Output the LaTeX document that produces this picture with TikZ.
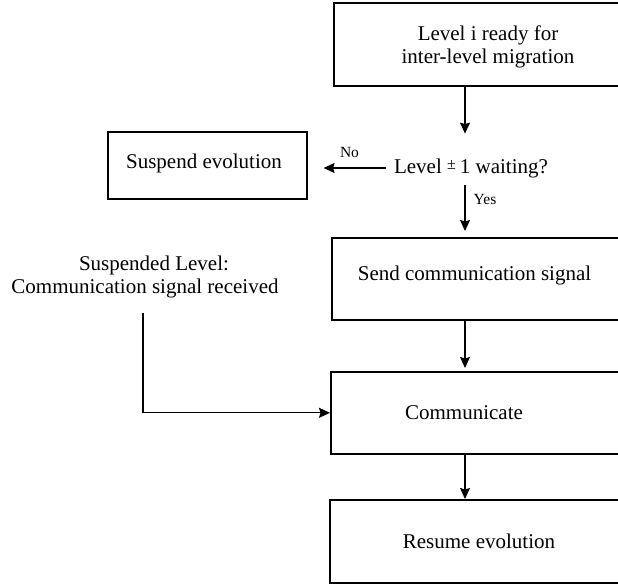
\documentclass[tikz,border=0pt]{standalone}
\usepackage{fontspec}
\setmainfont{Liberation Serif}
\usetikzlibrary{arrows.meta}
\tikzset{
  box/.style={draw, line width=1.6pt, rectangle, anchor=north west, inner sep=0pt},
  txt/.style={font=\fontsize{21}{23}\selectfont, align=center, inner sep=0pt},
  small/.style={font=\fontsize{15.5}{17}\selectfont, inner sep=0pt},
  arr/.style={line width=1.1pt, -{Stealth[length=11pt,width=10pt,inset=1.5pt]}}
}
\begin{document}
\begin{tikzpicture}[x=1pt,y=-1pt]
\useasboundingbox (0,0) rectangle (618,585);
% boxes
\node[box, minimum width=292pt, minimum height=83pt] (b1) at (333,2) {};
\node[box, minimum width=199pt, minimum height=67pt] (sus) at (107,131) {};
\node[box, minimum width=294pt, minimum height=82pt] (b2) at (331,237) {};
\node[box, minimum width=295pt, minimum height=82pt] (b3) at (330,371) {};
\node[box, minimum width=296pt, minimum height=83pt] (b4) at (329,499) {};
% texts
\node[txt] (t1) at (488,46.5) {Level i ready for\\inter-level migration};
\node[txt] (tsus) at (204,163) {Suspend evolution};
\node[txt, inner xsep=8pt] (dec) at (471,168) {Level {\fontsize{16}{16}\selectfont\raisebox{3.5pt}{±} }1 waiting?};
\node[txt] (t2) at (474.5,275) {Send communication signal};
\node[txt] (t3) at (464,413) {Communicate};
\node[txt] (t4) at (479,541) {Resume evolution};
\node[txt] (sl) at (145,276.5) {\hspace*{18pt}Suspended Level:\\Communication signal received};
\node[small] (no) at (349.5,153) {No};
\node[small] (yes) at (485,200) {Yes};
% helper coordinates
\coordinate (ax) at (465,0);
\coordinate (y0) at (465,185);
\coordinate (s0) at (143,313);
% connectors
\draw[arr] (b1.south -| ax) -- ++(0,47);
\draw[arr, shorten >=16pt] (dec.west) -- (sus.east |- dec.west);
\draw[arr, shorten >=6pt] (y0) -- (b2.north -| ax);
\draw[arr, shorten >=3pt] (b2.south -| ax) -- (b3.north -| ax);
\draw[arr] (b3.south -| ax) -- (b4.north -| ax);
\draw[arr] (s0) |- (b3.west);
\end{tikzpicture}
\end{document}
